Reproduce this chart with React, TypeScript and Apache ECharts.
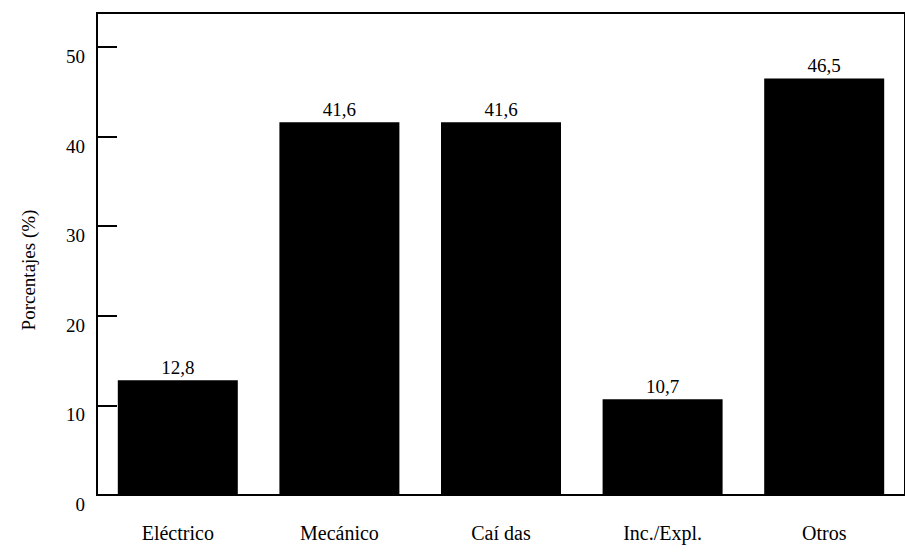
import React, { useEffect, useRef } from "react";
import * as echarts from "echarts";

const categories = ["Eléctrico", "Mecánico", "Caí das", "Inc./Expl.", "Otros"];
const values = [12.8, 41.6, 41.6, 10.7, 46.5];
const yAxisTitle = "Porcentajes (%)";

const FONT = "'Liberation Serif', 'DejaVu Serif', serif";

export default function App() {
  const ref = useRef<HTMLDivElement>(null);
  useEffect(() => {
    if (!ref.current) return;
    const chart = echarts.init(ref.current, undefined, { renderer: "svg" });
    chart.setOption({
      animation: false,
      backgroundColor: "#ffffff",
      grid: {
        left: 97,
        top: 13,
        width: 813,
        height: 482,
        show: true,
        borderColor: "#000",
        borderWidth: 2,
      },
      xAxis: {
        type: "category",
        data: categories,
        axisLine: { lineStyle: { color: "#000", width: 2 } },
        axisTick: { inside: true, length: 11, lineStyle: { color: "#000", width: 2 }, interval: 0 },
        axisLabel: { color: "#000", fontFamily: FONT, fontSize: 20, margin: 28, interval: 0 },
        splitLine: { show: false },
      },
      yAxis: {
        type: "value",
        min: 0,
        max: 53.8,
        interval: 10,
        axisLine: { show: true, lineStyle: { color: "#000", width: 2 } },
        axisTick: { show: true, inside: true, length: 20, lineStyle: { color: "#000", width: 2 } },
        axisLabel: {
          color: "#000",
          fontFamily: FONT,
          fontSize: 19,
          margin: 12,
          verticalAlign: "top",
          showMaxLabel: false,
          formatter: (v: number) => (v % 10 === 0 ? String(v) : ""),
        },
        splitLine: { show: false },
      },
      graphic: [
        {
          type: "text",
          x: 28,
          y: 270,
          rotation: Math.PI / 2,
          style: {
            text: yAxisTitle,
            fontFamily: FONT,
            fontSize: 19,
            fill: "#000",
            align: "center",
            verticalAlign: "middle",
          },
        },
      ],
      series: [
        {
          type: "bar",
          data: values,
          barWidth: 120,
          itemStyle: { color: "#000" },
          label: {
            show: true,
            position: "top",
            distance: 3,
            color: "#000",
            fontFamily: FONT,
            fontSize: 19,
            formatter: (p: any) => String(p.value).replace(".", ","),
          },
        },
      ],
    });
    return () => chart.dispose();
  }, []);
  return (
    <div
      ref={ref}
      style={{ position: "fixed", left: 0, top: 0, width: 905, height: 553, background: "#fff" }}
    />
  );
}
